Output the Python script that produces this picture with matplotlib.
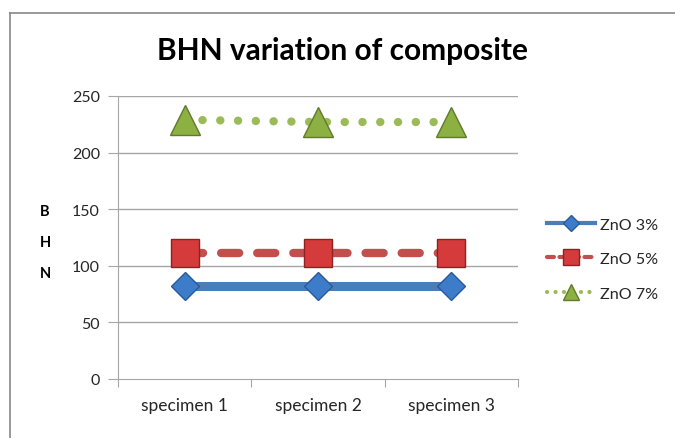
import matplotlib
matplotlib.use("Agg")
import matplotlib.pyplot as plt
from matplotlib.lines import Line2D

plt.rcParams['font.family'] = ['Lato', 'DejaVu Sans']
plt.rcParams['lines.scale_dashes'] = False

categories = ["specimen 1", "specimen 2", "specimen 3"]
zno3 = [82, 82, 82]
zno5 = [111, 111, 111]
zno7 = [229, 227, 227]
labels = ["ZnO 3%", "ZnO 5%", "ZnO 7%"]
yticks = [0, 50, 100, 150, 200, 250]

fig = plt.figure(figsize=(6.75, 4.39), dpi=100)
ax = fig.add_axes([118/675, 1-380/439, 400/675, 283/439])

x = list(range(len(categories)))

grid_c = '#a6a6a6'
txt_c = '#262626'
ax.set_ylim(0, 250)
ax.set_xlim(-0.5, 2.5)
ax.set_yticks(yticks)
ax.set_yticklabels([str(v) for v in yticks], fontsize=11.5, color=txt_c)
for v in yticks[1:]:
    ax.axhline(v, color=grid_c, lw=1.0, zorder=0)

ax.set_xticks([-0.5, 0.5, 1.5, 2.5])
ax.set_xticks(x, minor=True)
ax.set_xticklabels([])
ax.set_xticklabels(categories, minor=True, fontsize=12.5, color=txt_c)
ax.tick_params(axis='x', which='major', length=6, color=grid_c, direction='out')
ax.tick_params(axis='x', which='minor', length=0, pad=13)
ax.tick_params(axis='y', length=7, color=grid_c, pad=6)
for s in ['top', 'right']:
    ax.spines[s].set_visible(False)
ax.spines['left'].set_color(grid_c)
ax.spines['bottom'].set_color(grid_c)

blue_line = '#4a7ebb'
red_line = '#c0504d'
green_line = '#9bbb59'

l1, = ax.plot(x, zno3, color=blue_line, lw=6.5, solid_capstyle='butt',
              marker='D', markersize=14, markerfacecolor='#3d7cc9',
              markeredgecolor='#2a5a9a', markeredgewidth=1, zorder=3)
l2, = ax.plot(x, zno5, color=red_line, lw=6, dash_capstyle='round',
              dashes=(13, 13), marker='s', markersize=20,
              markerfacecolor='#d63b3b', markeredgecolor='#8e2222',
              markeredgewidth=1, zorder=3)
l3, = ax.plot(x, zno7, color=green_line, lw=6, dash_capstyle='round',
              dashes=(0.1, 12.7), marker='^', markersize=21,
              markerfacecolor='#8db042', markeredgecolor='#5f7a2a',
              markeredgewidth=1, zorder=3)

# legend handles
h1 = Line2D([], [], color=blue_line, lw=3, marker='D', markersize=8,
            markerfacecolor='#3d7cc9', markeredgecolor='#2a5a9a')
h2 = Line2D([], [], color=red_line, lw=3, dashes=(5, 4), dash_capstyle='round',
            marker='s', markersize=11, markerfacecolor='#d63b3b', markeredgecolor='#8e2222')
h3 = Line2D([], [], color=green_line, lw=3, dashes=(0.1, 6), dash_capstyle='round',
            marker='^', markersize=12, markerfacecolor='#8db042', markeredgecolor='#5f7a2a')
fig.legend([h1, h2, h3], labels, loc='center left',
           bbox_to_anchor=(547/675, 1-260/439), frameon=False, fontsize=11.6,
           handlelength=3.0, handletextpad=0.3, labelspacing=1.25,
           borderpad=0, borderaxespad=0, labelcolor=txt_c)

fig.text(342/675, 1-51/439, "BHN variation of composite", ha='center', va='center',
         fontsize=21.5, fontweight='bold', color='#000000')
fig.text(45/675, 1-243/439, "B\n\nH\n\nN", ha='center', va='center',
         fontsize=10.5, fontweight='bold', linespacing=1.15, color='#000000')

# outer chart border (left and top visible)
fig.add_artist(Line2D([10/675, 10/675], [0, 1-14/439], transform=fig.transFigure,
                      color='#888888', lw=1.2))
fig.add_artist(Line2D([10/675, 1], [1-14/439, 1-14/439], transform=fig.transFigure,
                      color='#888888', lw=1.2))

fig.savefig("out.png", dpi=100)
